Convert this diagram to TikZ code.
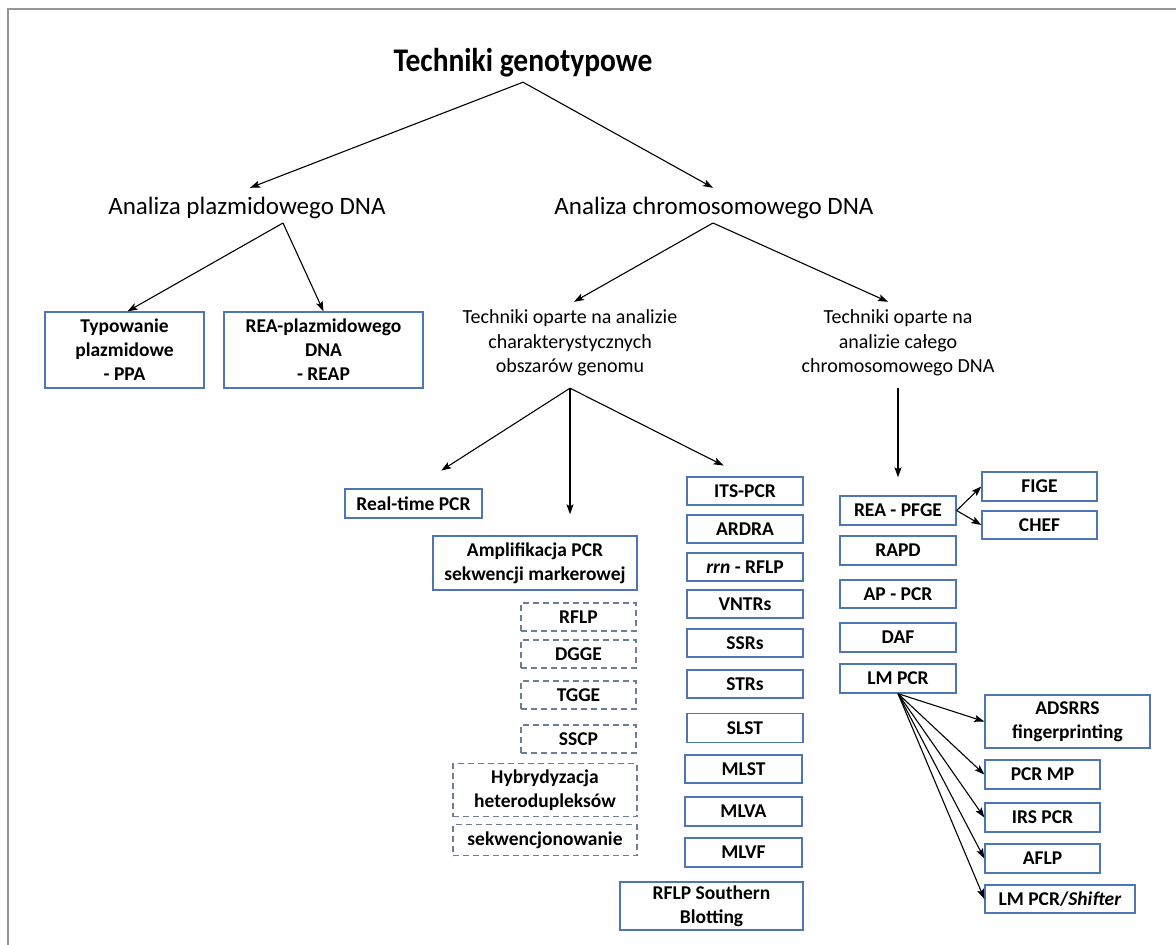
\documentclass[tikz,border=0pt]{standalone}
\usepackage{fontspec}
\setmainfont{Carlito}
\usetikzlibrary{arrows.meta,calc}
\definecolor{boxblue}{RGB}{79,118,180}
\definecolor{dashgray}{RGB}{110,125,150}
\definecolor{framegray}{RGB}{150,150,150}
\begin{document}
\begin{tikzpicture}[x=1pt,y=-1pt,
  box/.style={draw=boxblue,line width=1.3pt,align=center,inner sep=0pt,
    font=\bfseries\fontsize{19.5}{24}\selectfont},
  dbox/.style={draw=dashgray,line width=1.2pt,dash pattern=on 6pt off 4pt,
    align=center,inner sep=0pt,font=\bfseries\fontsize{19.5}{24}\selectfont},
  arr/.style={draw=black,line width=1.1pt,-{Stealth[length=10pt,width=7pt,inset=2pt]}},
  lbl/.style={align=center,inner sep=0pt}]

\useasboundingbox (0,0) rectangle (1176,945);
\fill[white] (0,0) rectangle (1176,945);
\draw[framegray,line width=1.2pt] (8,945) -- (8,9) -- (1176,9);

% headings
\node[lbl,font=\bfseries\fontsize{29.5}{34}\selectfont,minimum height=38pt] (title) at (523,63) {\scalebox{1}[1.12]{Techniki genotypowe}};
\node[lbl,font=\fontsize{25}{30}\selectfont,minimum height=40pt] (plaz) at (247,208) {Analiza plazmidowego DNA};
\node[lbl,font=\fontsize{25}{30}\selectfont,minimum height=40pt] (chrom) at (714,208) {Analiza chromosomowego DNA};
\node[lbl,font=\fontsize{20}{24.5}\selectfont,minimum height=82pt] (kchar) at (570,343) {Techniki oparte na analizie\\charakterystycznych\\obszarów genomu};
\node[lbl,font=\fontsize{20}{24.5}\selectfont,minimum height=82pt] (cal) at (898,343) {Techniki oparte na\\analizie całego\\chromosomowego DNA};

% plasmid branch
\node[box,minimum width=159pt,minimum height=76pt] (ppa) at (124.5,350) {Typowanie\\plazmidowe\\- PPA};
\node[box,minimum width=199pt,minimum height=76pt] (reap) at (323.5,350) {REA-plazmidowego\\DNA\\- REAP};

% characteristic regions branch
\node[box,minimum width=137pt,minimum height=29pt] (rt) at (413.5,503.5) {Real-time PCR};
\node[box,minimum width=204pt,minimum height=54pt] (amp) at (535,563) {Amplifikacja PCR\\sekwencji markerowej};
\node[dbox,minimum width=115pt,minimum height=28pt] (rflp) at (578.5,617) {RFLP};
\node[dbox,minimum width=115pt,minimum height=28pt] (dgge) at (578.5,654) {DGGE};
\node[dbox,minimum width=115pt,minimum height=28pt] (tgge) at (578.5,695) {TGGE};
\node[dbox,minimum width=115pt,minimum height=28pt] (sscp) at (578.5,739) {SSCP};
\node[dbox,minimum width=184pt,minimum height=53pt] (hyb) at (545,790) {Hybrydyzacja\\heterodupleksów};
\node[dbox,minimum width=184pt,minimum height=31pt] (sekw) at (545,840) {sekwencjonowanie};

\node[box,minimum width=116pt,minimum height=28pt] (its) at (745,491) {ITS-PCR};
\node[box,minimum width=116pt,minimum height=28pt] (ardra) at (745,529) {ARDRA};
\node[box,minimum width=116pt,minimum height=28pt] (rrn) at (745,567) {\textit{rrn} - RFLP};
\node[box,minimum width=116pt,minimum height=28pt] (vntr) at (745,604) {VNTRs};
\node[box,minimum width=116pt,minimum height=28pt] (ssr) at (745,643) {SSRs};
\node[box,minimum width=116pt,minimum height=28pt] (str) at (745,684) {STRs};
\node[box,minimum width=116pt,minimum height=29pt] (slst) at (745,728) {SLST};
\node[box,minimum width=117pt,minimum height=28pt] (mlst) at (743.5,769) {MLST};
\node[box,minimum width=117pt,minimum height=29pt] (mlva) at (743.5,811.5) {MLVA};
\node[box,minimum width=117pt,minimum height=29pt] (mlvf) at (743.5,852.5) {MLVF};
\node[box,minimum width=183pt,minimum height=48pt] (south) at (711.5,906) {RFLP Southern\\Blotting};

% whole-chromosome branch
\node[box,minimum width=116pt,minimum height=29pt] (pfge) at (898,510.5) {REA - PFGE};
\node[box,minimum width=115pt,minimum height=29pt] (fige) at (1039.5,486.5) {FIGE};
\node[box,minimum width=115pt,minimum height=28pt] (chef) at (1039.5,525) {CHEF};
\node[box,minimum width=116pt,minimum height=29pt] (rapd) at (898,550.5) {RAPD};
\node[box,minimum width=116pt,minimum height=28pt] (appcr) at (898,594) {AP - PCR};
\node[box,minimum width=116pt,minimum height=29pt] (daf) at (898,637.5) {DAF};
\node[box,minimum width=116pt,minimum height=29pt] (lmpcr) at (898,678.5) {LM PCR};

\node[box,minimum width=165pt,minimum height=53pt] (adsrrs) at (1067.5,721.5) {ADSRRS\\fingerprinting};
\node[box,minimum width=115pt,minimum height=29pt] (pcrmp) at (1042.5,774.5) {PCR MP};
\node[box,minimum width=115pt,minimum height=29pt] (irs) at (1042.5,817.5) {IRS PCR};
\node[box,minimum width=115pt,minimum height=29pt] (aflp) at (1042.5,858.5) {AFLP};
\node[box,minimum width=150pt,minimum height=28pt] (shift) at (1060,899) {LM PCR/\textit{Shifter}};

% connectors
\draw[arr] (title.south) -- ([xshift=3pt]plaz.north);
\draw[arr] (title.south) -- ([xshift=-1pt]chrom.north);
\coordinate (p0) at (283,223);
\coordinate (c0) at (713,223);
\draw[arr] (p0) -- ([xshift=3pt]ppa.north);
\draw[arr] (p0) -- (reap.north);
\draw[arr] (c0) -- ([xshift=4pt]kchar.north);
\draw[arr] (c0) -- ([xshift=-10pt]cal.north);

\draw[arr,shorten >=33pt] ([yshift=-4pt]kchar.south) -- (rt.north);
\draw[arr] ([yshift=-4pt]kchar.south) -- ([yshift=21pt]kchar.south |- amp.north);
\draw[arr,shorten >=24pt] ([yshift=-4pt]kchar.south) -- (its.north);

\draw[arr,shorten >=18pt] ([yshift=-4pt]cal.south) -- (pfge.north);
\draw[arr] (pfge.east) -- (fige.west);
\draw[arr] (pfge.east) -- (chef.west);

\foreach \t in {adsrrs,pcrmp,irs,aflp,shift}
  \draw[arr] (lmpcr.south) -- (\t.west);
\end{tikzpicture}
\end{document}
